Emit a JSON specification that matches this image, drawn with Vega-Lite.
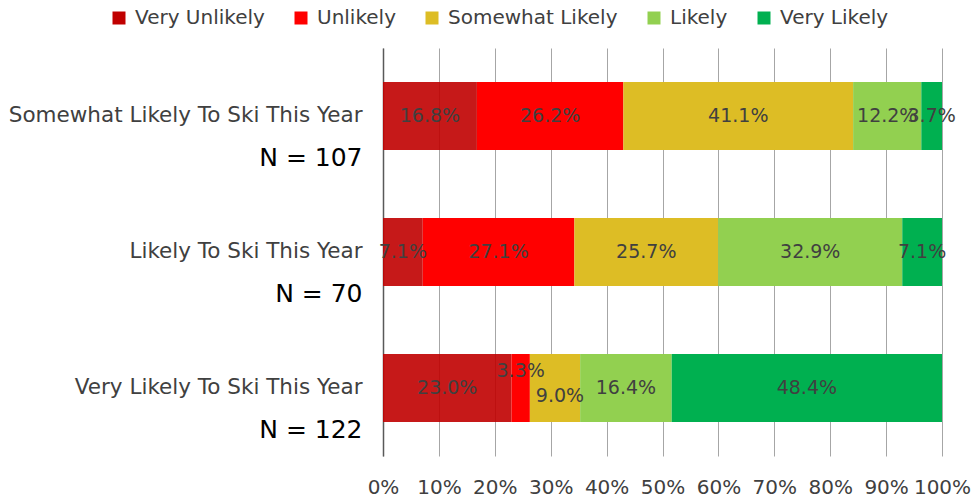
{
  "$schema": "https://vega.github.io/schema/vega-lite/v6.json",
  "width": 559,
  "height": 408,
  "autosize": {"type": "none"},
  "padding": {"left": 383, "top": 48, "right": 31, "bottom": 44},
  "background": "white",
  "config": {"view": {"stroke": null}, "font": "DejaVu Sans"},
  "layer": [
    {
      "data": {
        "values": [
          {"cat": "Somewhat Likely To Ski This Year", "response": "Very Unlikely", "pct": 16.8},
          {"cat": "Somewhat Likely To Ski This Year", "response": "Unlikely", "pct": 26.2},
          {"cat": "Somewhat Likely To Ski This Year", "response": "Somewhat Likely", "pct": 41.1},
          {"cat": "Somewhat Likely To Ski This Year", "response": "Likely", "pct": 12.2},
          {"cat": "Somewhat Likely To Ski This Year", "response": "Very Likely", "pct": 3.7},
          {"cat": "Likely To Ski This Year", "response": "Very Unlikely", "pct": 7.1},
          {"cat": "Likely To Ski This Year", "response": "Unlikely", "pct": 27.1},
          {"cat": "Likely To Ski This Year", "response": "Somewhat Likely", "pct": 25.7},
          {"cat": "Likely To Ski This Year", "response": "Likely", "pct": 32.9},
          {"cat": "Likely To Ski This Year", "response": "Very Likely", "pct": 7.1},
          {"cat": "Very Likely To Ski This Year", "response": "Very Unlikely", "pct": 23.0},
          {"cat": "Very Likely To Ski This Year", "response": "Unlikely", "pct": 3.3},
          {"cat": "Very Likely To Ski This Year", "response": "Somewhat Likely", "pct": 9.0},
          {"cat": "Very Likely To Ski This Year", "response": "Likely", "pct": 16.4},
          {"cat": "Very Likely To Ski This Year", "response": "Very Likely", "pct": 48.4}
        ]
      },
      "transform": [
        {"calculate": "indexof(['Very Unlikely','Unlikely','Somewhat Likely','Likely','Very Likely'], datum.response)", "as": "rank"},
        {"stack": "pct", "groupby": ["cat"], "sort": [{"field": "rank"}], "offset": "normalize", "as": ["x0", "x1"]},
        {"calculate": "(datum.x0 + datum.x1) / 2", "as": "xm"},
        {"calculate": "format(datum.pct, '.1f') + '%'", "as": "label"}
      ],
      "encoding": {
        "y": {
          "field": "cat",
          "type": "nominal",
          "sort": ["Somewhat Likely To Ski This Year", "Likely To Ski This Year", "Very Likely To Ski This Year"],
          "scale": {"paddingInner": 0.5, "paddingOuter": 0.25},
          "axis": {
            "title": null,
            "labelFontSize": 21.5,
            "labelColor": "#404040",
            "ticks": false,
            "labelPadding": 21,
            "labelLimit": 400,
            "domain": true,
            "domainColor": "#595959",
            "domainWidth": 1.5,
            "grid": false
          }
        }
      },
      "layer": [
        {
          "mark": {"type": "bar"},
          "encoding": {
            "x": {
              "field": "x0",
              "type": "quantitative",
              "scale": {"domain": [0, 1]},
              "axis": {
                "title": null,
                "format": ".0%",
                "values": [0, 0.1, 0.2, 0.3, 0.4, 0.5, 0.6, 0.7, 0.8, 0.9, 1],
                "labelFontSize": 20,
                "labelColor": "#404040",
                "labelPadding": 21,
                "labelOverlap": false,
                "labelFlush": false,
                "grid": true,
                "gridColor": "#a6a6a6",
                "gridWidth": 1,
                "domain": false,
                "ticks": false
              }
            },
            "x2": {"field": "x1"},
            "color": {
              "field": "response",
              "type": "nominal",
              "scale": {
                "domain": ["Very Unlikely", "Unlikely", "Somewhat Likely", "Likely", "Very Likely"],
                "range": ["#C00000", "#FF0000", "#DDBD25", "#92D050", "#00B050"]
              },
              "legend": {
                "orient": "none",
                "legendX": -274,
                "legendY": -40,
                "direction": "horizontal",
                "title": null,
                "symbolType": "square",
                "symbolSize": 169,
                "symbolStrokeWidth": 0,
                "labelFontSize": 20,
                "labelColor": "#404040",
                "labelOffset": 6,
                "labelLimit": 400,
                "columnPadding": 26,
                "padding": 0
              }
            },
            "opacity": {"condition": {"test": "datum.response == 'Very Unlikely'", "value": 0.9}, "value": 1}
          }
        },
        {
          "transform": [{"filter": "!(datum.cat == 'Very Likely To Ski This Year' && (datum.response == 'Unlikely' || datum.response == 'Somewhat Likely'))"}],
          "mark": {"type": "text", "fontSize": 19, "color": "#404040"},
          "encoding": {
            "x": {"field": "xm", "type": "quantitative"},
            "text": {"field": "label"}
          }
        },
        {
          "transform": [{"filter": "datum.cat == 'Very Likely To Ski This Year' && datum.response == 'Unlikely'"}],
          "mark": {"type": "text", "fontSize": 19, "color": "#404040", "dy": -17},
          "encoding": {
            "x": {"field": "xm", "type": "quantitative"},
            "text": {"field": "label"}
          }
        },
        {
          "transform": [{"filter": "datum.cat == 'Very Likely To Ski This Year' && datum.response == 'Somewhat Likely'"}],
          "mark": {"type": "text", "fontSize": 19, "color": "#404040", "dy": 8, "dx": 5},
          "encoding": {
            "x": {"field": "xm", "type": "quantitative"},
            "text": {"field": "label"}
          }
        }
      ]
    },
    {
      "data": {"values": [{"n": "N = 107"}, {"n": "N = 70"}, {"n": "N = 122"}]},
      "mark": {"type": "point", "opacity": 0},
      "encoding": {
        "y": {
          "field": "n",
          "type": "nominal",
          "sort": ["N = 107", "N = 70", "N = 122"],
          "scale": {"paddingInner": 0.5, "paddingOuter": 0.25},
          "axis": {
            "orient": "left",
            "title": null,
            "labelFontSize": 25,
            "labelColor": "black",
            "ticks": false,
            "domain": false,
            "grid": false,
            "labelPadding": 21,
            "labelOffset": 41,
            "labelLimit": 400
          }
        }
      }
    }
  ],
  "resolve": {"scale": {"y": "independent"}}
}
